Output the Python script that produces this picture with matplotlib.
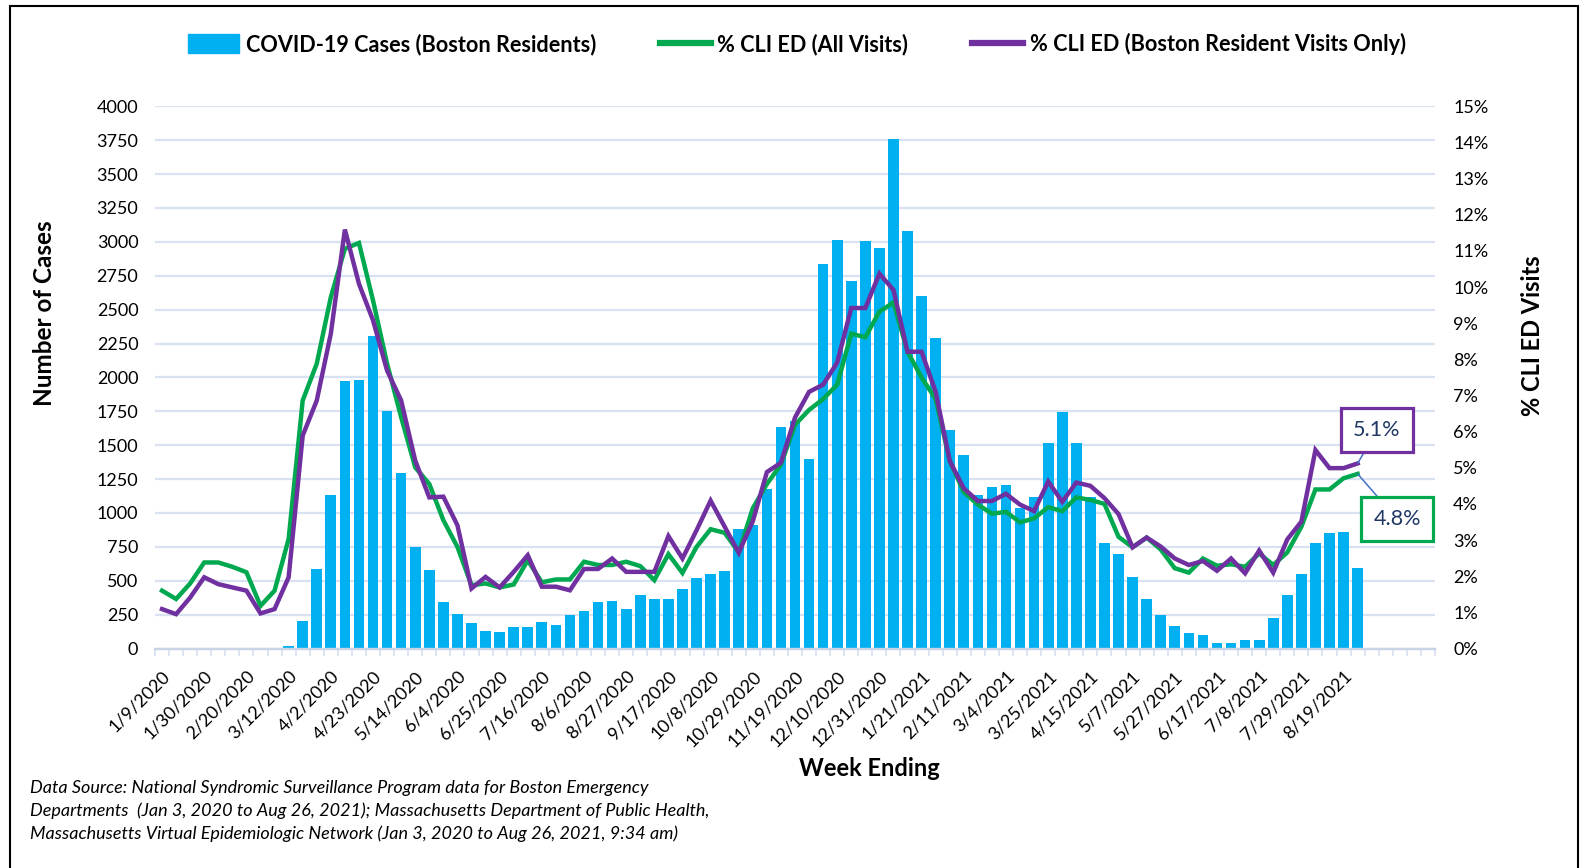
import matplotlib
matplotlib.use("Agg")
import matplotlib.pyplot as plt
from matplotlib.patches import Patch, Rectangle
from matplotlib.lines import Line2D
from matplotlib.ticker import FixedLocator

# weekly counts, week ending 1/9/2020 .. 8/26/2021
cases = [0, 0, 0, 0, 0, 0, 0, 0, 0, 20,
         205, 586, 1135, 1972, 1980, 2308, 1750, 1298, 748, 580,
         344, 253, 186, 130, 123, 160, 160, 193, 172, 246,
         279, 340, 352, 295, 391, 362, 362, 436, 519, 551,
         573, 885, 908, 1180, 1635, 1680, 1397, 2840, 3012, 2712,
         3007, 2953, 3759, 3082, 2604, 2288, 1611, 1428, 1130, 1195,
         1208, 1040, 1116, 1515, 1744, 1515, 1121, 776, 695, 530,
         365, 246, 167, 111, 103, 44, 44, 62, 66, 222,
         394, 547, 776, 850, 857, 591]

cliAll = [1.60, 1.37, 1.80, 2.38, 2.38, 2.26, 2.11, 1.18, 1.60, 3.03,
          6.86, 7.88, 9.72, 11.06, 11.22, 9.63, 7.88, 6.40, 5.01, 4.55,
          3.55, 2.81, 1.75, 1.80, 1.69, 1.77, 2.44, 1.83, 1.91, 1.91,
          2.40, 2.31, 2.31, 2.40, 2.28, 1.89, 2.61, 2.09, 2.81, 3.30,
          3.20, 2.66, 3.88, 4.55, 5.09, 6.19, 6.60, 6.90, 7.30, 8.71,
          8.61, 9.32, 9.57, 8.21, 7.50, 6.90, 5.19, 4.33, 3.98, 3.73,
          3.78, 3.49, 3.60, 3.91, 3.80, 4.18, 4.11, 4.00, 3.09, 2.80,
          3.07, 2.74, 2.22, 2.10, 2.49, 2.29, 2.33, 2.26, 2.63, 2.31,
          2.66, 3.37, 4.40, 4.40, 4.71, 4.83]

cliBoston = [1.09, 0.95, 1.41, 1.97, 1.78, 1.69, 1.60, 0.97, 1.09, 1.97,
             5.89, 6.86, 8.71, 11.59, 10.09, 9.08, 7.69, 6.86, 5.20, 4.18,
             4.20, 3.41, 1.66, 1.98, 1.69, 2.12, 2.58, 1.71, 1.71, 1.61,
             2.20, 2.20, 2.49, 2.12, 2.12, 2.12, 3.11, 2.49, 3.27, 4.09,
             3.37, 2.65, 3.52, 4.88, 5.14, 6.39, 7.10, 7.30, 7.91, 9.42,
             9.42, 10.37, 9.92, 8.21, 8.21, 7.10, 5.19, 4.43, 4.08, 4.08,
             4.28, 3.98, 3.80, 4.62, 4.06, 4.59, 4.50, 4.16, 3.72, 2.80,
             3.07, 2.82, 2.49, 2.31, 2.42, 2.15, 2.49, 2.08, 2.71, 2.10,
             3.02, 3.51, 5.49, 4.99, 4.99, 5.12]

# every third week is labelled
weekLabels = ["1/9/2020", "1/30/2020", "2/20/2020", "3/12/2020", "4/2/2020",
              "4/23/2020", "5/14/2020", "6/4/2020", "6/25/2020", "7/16/2020",
              "8/6/2020", "8/27/2020", "9/17/2020", "10/8/2020", "10/29/2020",
              "11/19/2020", "12/10/2020", "12/31/2020", "1/21/2021", "2/11/2021",
              "3/4/2021", "3/25/2021", "4/15/2021", "5/7/2021", "5/27/2021",
              "6/17/2021", "7/8/2021", "7/29/2021", "8/19/2021"]

nSlots = 91  # axis keeps a few empty weeks after the last one

leftTicks = list(range(0, 4001, 250))
rightTicks = list(range(0, 16))

BLUE = "#00B0F0"
GREEN = "#00A84F"
PURPLE = "#7030A0"
GRID = "#D9E2F3"
NAVY = "#1F3864"
FONT = ["Lato", "DejaVu Sans"]

W, H = 1582, 868


def fx(px):
    return px / W


def fy(py):
    return 1 - py / H


def plotChart():
    plt.rcParams["font.family"] = FONT
    fig = plt.figure(figsize=(W / 100, H / 100), dpi=100)
    ax = fig.add_axes([fx(155), fy(648.5), fx(1435 - 155), (648.5 - 106.3) / H])
    ax2 = ax.twinx()

    n = len(cases)
    xs = list(range(n))
    ax.bar(xs, cases, width=0.76, color=BLUE, zorder=2)
    ax2.plot(xs, cliAll, color=GREEN, lw=3.2, solid_joinstyle="miter", zorder=3)
    ax2.plot(xs, cliBoston, color=PURPLE, lw=3.2, solid_joinstyle="miter", zorder=4)

    ax.set_xlim(-0.5, nSlots - 0.5)
    ax.set_ylim(0, 4000)
    ax2.set_ylim(0, 15)

    ax.set_yticks(leftTicks)
    ax.set_yticklabels([str(v) for v in leftTicks])
    ax2.set_yticks(rightTicks)
    ax2.set_yticklabels([str(v) + "%" for v in rightTicks])
    ax.tick_params(axis="y", length=0, pad=12, labelsize=13)
    ax2.tick_params(axis="y", length=0, pad=13, labelsize=13)

    ax.set_xticks([3 * k for k in range(len(weekLabels))])
    ax.set_xticklabels(weekLabels, rotation=45, ha="right", va="top",
                       rotation_mode="anchor")
    ax.tick_params(axis="x", which="major", length=0, pad=14, labelsize=13)
    ax.xaxis.set_minor_locator(FixedLocator([i - 0.5 for i in range(nSlots + 1)]))
    ax.tick_params(axis="x", which="minor", length=5, width=1.3, color=GRID)

    ax.grid(axis="y", color=GRID, lw=1.6, zorder=0)
    ax.set_axisbelow(True)
    for a in (ax, ax2):
        for side in ("top", "left", "right"):
            a.spines[side].set_visible(False)
        a.spines["bottom"].set_color("#C8D3E6")
        a.spines["bottom"].set_linewidth(1.6)

    # value call-outs on the last week
    last = n - 1
    ax2.annotate("5.1%", xy=(last, cliBoston[-1]), xycoords="data",
                 xytext=(1377, H - 430), textcoords="figure pixels",
                 ha="center", va="center", fontsize=15.5, color=NAVY,
                 bbox=dict(boxstyle="square,pad=0.55", fc="white", ec=PURPLE, lw=2.3),
                 arrowprops=dict(arrowstyle="-", color="#4472C4", lw=1.1,
                                 shrinkA=0, shrinkB=0), zorder=6)
    ax2.annotate("4.8%", xy=(last, cliAll[-1]), xycoords="data",
                 xytext=(1397, H - 519), textcoords="figure pixels",
                 ha="center", va="center", fontsize=15.5, color=NAVY,
                 bbox=dict(boxstyle="square,pad=0.55", fc="white", ec=GREEN, lw=2.3),
                 arrowprops=dict(arrowstyle="-", color="#4472C4", lw=1.1,
                                 shrinkA=0, shrinkB=0), zorder=6)

    handles = [Patch(color=BLUE),
               Line2D([0], [0], color=GREEN, lw=4.5),
               Line2D([0], [0], color=PURPLE, lw=4.5)]
    labels = ["COVID-19 Cases (Boston Residents)", "% CLI ED (All Visits)",
              "% CLI ED (Boston Resident Visits Only)"]
    fig.legend(handles, labels, ncol=3, loc="center", bbox_to_anchor=(fx(797), fy(44)),
               frameon=False, prop=dict(family=FONT, weight="bold", size=15.6),
               handlelength=2.35, handleheight=0.95, handletextpad=0.3, columnspacing=2.95)

    fig.text(fx(45), fy(313), "Number of Cases", rotation=90, ha="center", va="center",
             fontsize=17.5, fontweight="bold")
    fig.text(fx(1532), fy(336), "% CLI ED Visits", rotation=90, ha="center", va="center",
             fontsize=17, fontweight="bold")
    fig.text(fx(869), fy(769), "Week Ending", ha="center", va="center",
             fontsize=17, fontweight="bold")

    footer = ["Data Source: National Syndromic Surveillance Program data for Boston Emergency",
              "Departments  (Jan 3, 2020 to Aug 26, 2021); Massachusetts Department of Public Health,",
              "Massachusetts Virtual Epidemiologic Network (Jan 3, 2020 to Aug 26, 2021, 9:34 am)"]
    for k, line in enumerate(footer):
        fig.text(fx(30), fy(788 + 23 * k), line, ha="left", va="center",
                 fontsize=13, fontstyle="italic")

    fig.patches.append(Rectangle((fx(10), fy(900)), fx(1578 - 10), (900 - 6) / H,
                                 transform=fig.transFigure, fill=False,
                                 ec="black", lw=1.5))

    fig.savefig("out.png", dpi=100)
    plt.close(fig)


plotChart()
